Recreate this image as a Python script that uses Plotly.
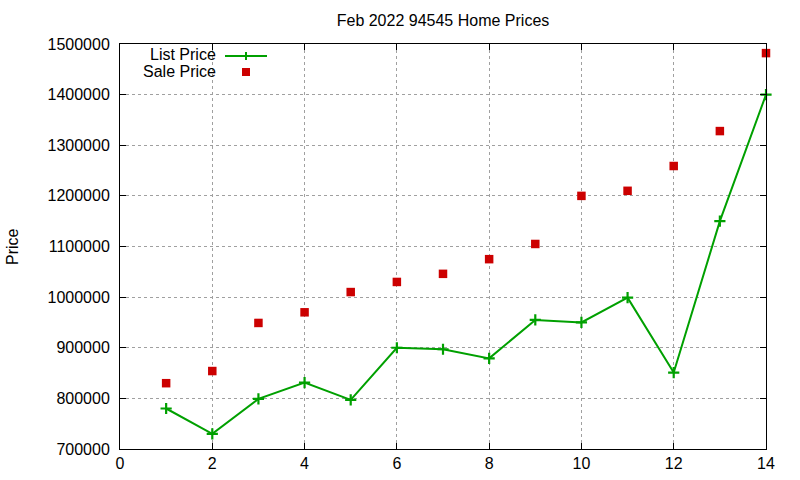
import plotly.graph_objects as go

# Data
months = list(range(1, 15))
list_price = [780000, 730000, 799000, 831000, 797000, 900000, 897000, 879000,
              955000, 950000, 999000, 851000, 1150000, 1400000]
sale_price = [830000, 854000, 949000, 970000, 1010000, 1030000, 1046000, 1075000,
              1105000, 1200000, 1210000, 1259000, 1328000, 1482000]
y_ticks = [700000, 800000, 900000, 1000000, 1100000, 1200000, 1300000, 1400000, 1500000]
x_ticks = [0, 2, 4, 6, 8, 10, 12, 14]

GREEN = "#00a000"
RED = "#cc0000"
FONT = "Liberation Sans, Arial, sans-serif"
FS = 16

fig = go.Figure()
fig.add_trace(go.Scatter(
    x=months, y=list_price, mode="lines+markers", name="List Price",
    line=dict(color=GREEN, width=2),
    marker=dict(symbol="cross-thin", size=8, line=dict(color=GREEN, width=2.2)),
    cliponaxis=False,
))
fig.add_trace(go.Scatter(
    x=months, y=sale_price, mode="markers", name="Sale Price",
    marker=dict(symbol="square", size=8.5, color=RED, line=dict(width=0)),
    cliponaxis=False,
))

W, H = 800, 480
L, R, T, B = 120, 34, 44, 31
pw, ph = W - L - R, H - T - B

def px(x):
    return (x - L) / pw

def py(y):
    return 1 - (y - T) / ph

axis_common = dict(
    showline=True, linecolor="black", linewidth=1, mirror="allticks",
    ticks="inside", ticklen=6, tickcolor="black", tickwidth=1,
    showgrid=True, gridcolor="#a0a0a0", griddash="dot", gridwidth=1,
    zeroline=False, automargin=False,
    tickfont=dict(family=FONT, size=FS, color="black"),
)

fig.update_layout(
    width=W, height=H,
    margin=dict(l=L, r=R, t=T, b=B, autoexpand=False),
    paper_bgcolor="white", plot_bgcolor="white",
    showlegend=False,
    title=dict(text="Feb 2022 94545 Home Prices", x=(L + pw / 2) / W, xanchor="center",
               y=1 - 20 / H, yanchor="middle",
               font=dict(family=FONT, size=FS, color="black")),
    xaxis=dict(range=[0, 14], tickvals=x_ticks, ticktext=[str(v) for v in x_ticks], **axis_common),
    yaxis=dict(range=[700000, 1500000], tickvals=y_ticks, ticktext=[str(v) for v in y_ticks],
               ticklabelstandoff=6, **axis_common),
    font=dict(family=FONT, size=FS, color="black"),
)

# Y axis title
fig.add_annotation(text="Price", xref="paper", yref="paper", x=px(12), y=py(247),
                   xanchor="center", yanchor="middle", textangle=-90, showarrow=False,
                   font=dict(family=FONT, size=FS, color="black"))

# Legend (gnuplot style: text left, sample right)
fig.add_annotation(text="List Price", xref="paper", yref="paper", x=px(218), y=py(55),
                   xanchor="right", yanchor="middle", showarrow=False,
                   font=dict(family=FONT, size=FS, color="black"))
fig.add_annotation(text="Sale Price", xref="paper", yref="paper", x=px(218), y=py(71),
                   xanchor="right", yanchor="middle", showarrow=False,
                   font=dict(family=FONT, size=FS, color="black"))
fig.add_shape(type="line", xref="paper", yref="paper", x0=px(225), x1=px(267), y0=py(56), y1=py(56),
              line=dict(color=GREEN, width=2))
fig.add_shape(type="line", xref="paper", yref="paper", x0=px(246), x1=px(246), y0=py(52), y1=py(60),
              line=dict(color=GREEN, width=2))
fig.add_shape(type="rect", xref="paper", yref="paper", x0=px(242), x1=px(250), y0=py(68), y1=py(76),
              line=dict(width=0), fillcolor=RED)

fig.write_html("out.html")
